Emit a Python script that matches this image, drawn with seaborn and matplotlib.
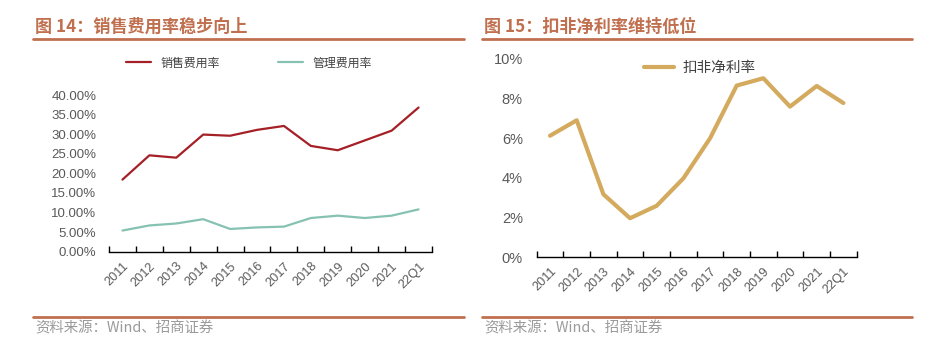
import numpy as np
import pandas as pd
import matplotlib
matplotlib.use("Agg")
import matplotlib.pyplot as plt
import seaborn as sns

categories = ["2011", "2012", "2013", "2014", "2015", "2016", "2017", "2018", "2019", "2020", "2021", "22Q1"]
sales_rate = [18.4, 24.6, 24.0, 29.9, 29.6, 31.1, 32.1, 27.0, 25.9, 28.4, 30.9, 36.8]
admin_rate = [5.4, 6.7, 7.2, 8.3, 5.8, 6.2, 6.4, 8.6, 9.2, 8.6, 9.2, 10.8]
net_margin = [6.13, 6.91, 3.18, 1.97, 2.6, 3.98, 6.0, 8.66, 9.03, 7.6, 8.64, 7.78]

sns.set_theme(style="white")
plt.rcParams['font.family'] = ['Liberation Sans', 'Noto Sans CJK SC', 'DejaVu Sans']

W, H = 937, 342
fig = plt.figure(figsize=(W / 100, H / 100), dpi=100)

def px(x0, y_top, x1, y_bot):
    return [x0 / W, 1 - y_bot / H, (x1 - x0) / W, (y_bot - y_top) / H]

TITLE_C = "#C0704F"
TICK_C = "#595959"
SRC_C = "#9A9A9A"

# ---- Left chart
ax1 = fig.add_axes(px(109, 95, 432, 251.7))
df1 = pd.DataFrame({
    "year": categories * 2,
    "value": sales_rate + admin_rate,
    "series": ["销售费用率"] * len(categories) + ["管理费用率"] * len(categories),
})
sns.lineplot(data=df1, x="year", y="value", hue="series", ax=ax1,
             palette={"销售费用率": "#A52026", "管理费用率": "#86C2B2"},
             linewidth=1.6, sort=False)
ax1.set_ylim(0, 40)
ax1.set_yticks(np.arange(0, 41, 5))
ax1.set_yticklabels([f"{v:.2f}%" for v in np.arange(0, 41, 5)])
leg1 = ax1.legend(loc="center", bbox_to_anchor=(249 / W, 1 - 63 / H), bbox_transform=fig.transFigure,
                  ncol=2, frameon=False, handlelength=2.1, columnspacing=4.9, handletextpad=0.75,
                  prop={"family": ["Noto Sans CJK SC"], "size": 8.6})
for t in leg1.get_texts():
    t.set_color("#404040")

# ---- Right chart
ax2 = fig.add_axes(px(536.7, 59, 856.7, 257.3))
df2 = pd.DataFrame({"year": categories, "value": net_margin, "series": ["扣非净利率"] * len(categories)})
sns.lineplot(data=df2, x="year", y="value", hue="series", ax=ax2,
             palette={"扣非净利率": "#D4AA5F"}, linewidth=3.0, sort=False)
ax2.set_ylim(0, 10)
ax2.set_yticks(np.arange(0, 11, 2))
ax2.set_yticklabels([f"{v}%" for v in np.arange(0, 11, 2)])
leg2 = ax2.legend(loc="center", bbox_to_anchor=(700 / W, 1 - 68 / H), bbox_transform=fig.transFigure,
                  frameon=False, handlelength=2.0, handletextpad=0.6,
                  prop={"family": ["Noto Sans CJK SC"], "size": 10.5})
for t in leg2.get_texts():
    t.set_color("#404040")

for ax, ypad, ysize in [(ax1, 9, 9.5), (ax2, 10, 10.5)]:
    ax.set_xlabel("")
    ax.set_ylabel("")
    n = len(categories)
    ax.set_xlim(-0.5, n - 0.5)
    ax.set_xticks(np.arange(-0.5, n, 1))
    ax.set_xticklabels([])
    ax.set_xticks(np.arange(n), minor=True)
    ax.set_xticklabels(categories, minor=True, rotation=45, ha="right", rotation_mode="anchor")
    ax.tick_params(axis="x", which="major", direction="in", length=4, width=1, color="#000000", bottom=True)
    ax.tick_params(axis="x", which="minor", length=0, pad=6, labelsize=9.2, labelcolor=TICK_C)
    ax.tick_params(axis="y", length=0, pad=ypad, labelsize=ysize, labelcolor=TICK_C)
    for s in ["top", "right", "left"]:
        ax.spines[s].set_visible(False)
    ax.spines["bottom"].set_color("#000000")
    ax.spines["bottom"].set_linewidth(1.0)
    ax.grid(False)

# ---- Titles, rules, sources
fig.text(35 / W, 1 - 27 / H, "图 14：销售费用率稳步向上", color=TITLE_C, fontsize=12.3, fontweight="bold",
         va="center", ha="left", family=["Noto Sans CJK SC"])
fig.text(484 / W, 1 - 27 / H, "图 15：扣非净利率维持低位", color=TITLE_C, fontsize=12.3, fontweight="bold",
         va="center", ha="left", family=["Noto Sans CJK SC"])
for (x0, x1) in [(33, 464), (482, 912)]:
    fig.add_artist(plt.Line2D([x0 / W, x1 / W], [1 - 39 / H, 1 - 39 / H], color=TITLE_C, lw=2.0))
    fig.add_artist(plt.Line2D([x0 / W, x1 / W], [1 - 317 / H, 1 - 317 / H], color=TITLE_C, lw=2.0))
fig.text(35 / W, 1 - 328.5 / H, "资料来源：Wind、招商证券", color=SRC_C, fontsize=10.4,
         va="center", ha="left", family=["Noto Sans CJK SC", "Liberation Sans"])
fig.text(484 / W, 1 - 328.5 / H, "资料来源：Wind、招商证券", color=SRC_C, fontsize=10.4,
         va="center", ha="left", family=["Noto Sans CJK SC", "Liberation Sans"])

fig.savefig("out.png", dpi=100)
